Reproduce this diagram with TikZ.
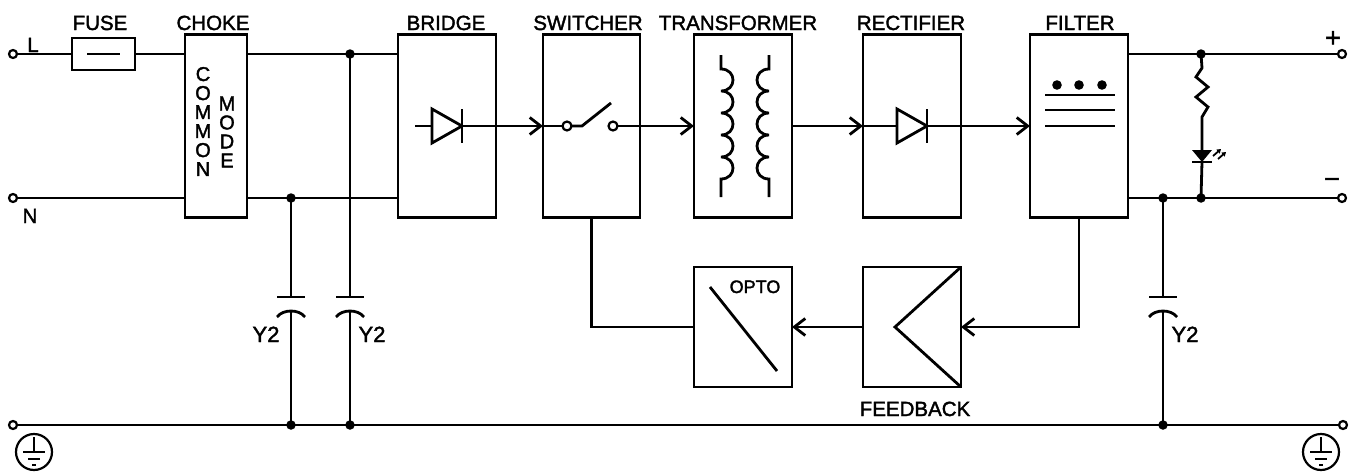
\documentclass[tikz,border=0pt]{standalone}
\usepackage{fontspec}
\setmainfont{Liberation Sans}[FakeBold=1.8]
\usetikzlibrary{arrows.meta}
\tikzset{
  box/.style={draw, line width=2.8pt, minimum width=98pt, minimum height=183pt, inner sep=0pt, outer sep=0pt},
  term/.style={circle, draw, fill=white, line width=2.2pt, minimum size=8pt, inner sep=0pt, outer sep=0pt},
  jdot/.style={circle, fill, minimum size=9.5pt, inner sep=0pt},
  lbl/.style={font=\fontsize{20.5}{24}\selectfont, inner sep=0pt, anchor=base},
  capl/.style={font=\fontsize{22}{24}\selectfont, inner sep=0pt, anchor=base},
  vlbl/.style={font=\fontsize{20}{19}\selectfont, inner sep=0pt, align=center},
  arr/.style={-{Straight Barb[length=11pt,width=17pt]}},
}
\begin{document}
\begin{tikzpicture}[x=1pt,y=-1pt,line width=2.8pt]
\fill[white] (0,0) rectangle (1358,474);
\useasboundingbox (0,0) rectangle (1358,474);

% boxes
\node[box, minimum width=63pt, minimum height=32pt] (fuse) at (103.5,54) {};
\node[box, minimum width=62pt] (choke) at (216,126) {};
\node[box] (bridge) at (447,126) {};
\node[box, minimum width=97pt] (switcher) at (591.5,126) {};
\node[box] (transformer) at (743,126) {};
\node[box] (rectifier) at (912,126) {};
\node[box] (filter) at (1079,126) {};
\node[box, minimum height=120pt] (opto) at (743,327) {};
\node[box, minimum height=120pt] (feedback) at (912,327) {};

% terminals
\node[term] (tL) at (13,54) {};
\node[term] (tN) at (13,198) {};
\node[term] (tP) at (1342,54) {};
\node[term] (tM) at (1342,198) {};
\node[term] (tGL) at (13,425) {};
\node[term] (tGR) at (1343,425) {};

% junction coordinates
\coordinate (dA) at (350,54);
\coordinate (dB) at (291,198);
\coordinate (dC) at (1201,54);
\coordinate (dD) at (1163,198);
\coordinate (dE) at (1201,198);
\coordinate (dF) at (291,425);
\coordinate (dG) at (350,425);
\coordinate (dH) at (1163,425);

% capacitor plates
\coordinate (c1t) at (291,297); \coordinate (c1b) at (291,311);
\coordinate (c2t) at (350,297); \coordinate (c2b) at (350,311);
\coordinate (c3t) at (1163,297); \coordinate (c3b) at (1163,311);

% mains wiring
\draw (tL) -- (fuse);
\draw (87,54) -- (120,54);
\draw (fuse) -- (choke.west |- tL);
\draw (choke.east |- tL) -- (bridge.west |- tL);
\draw (tN) -- (choke.west |- tN);
\draw (choke.east |- tN) -- (bridge.west |- tN);
\draw (tGL) -- (tGR);

% Y capacitors
\draw (dB) -- (c1t); \draw (c1b) -- (dF);
\draw (dA) -- (c2t); \draw (c2b) -- (dG);
\draw (dD) -- (c3t); \draw (c3b) -- (dH);
\foreach \x in {291,350,1163}{
  \draw (\x-14,297) -- (\x+14,297);
  \draw (\x-14,317) .. controls (\x-8,309) and (\x+8,309) .. (\x+14,317);
}

% bridge diode
\coordinate (bdA) at (415,126);
\coordinate (bdK) at (462,126);
\draw (bdA) -- (432,126);
\draw[line join=miter] (432,109) -- (462,126) -- (432,143) -- cycle;
\draw (462,109) -- (462,143);
\draw[arr] (bdK) -- (switcher.west |- bdK);

% switch
\node[term, minimum size=9pt] (sw1) at (567,126) {};
\node[term, minimum size=9pt] (sw2) at (613,126) {};
\draw (switcher.west |- bdK) -- (sw1);
\draw (sw1) -- (582,126) -- (611,103);
\draw[arr] (sw2) -- (transformer.west |- sw2);

% transformer coils
\draw (721,55) -- (721,69)
  .. controls (737,69) and (737,91) .. (721,91)
  .. controls (737,91) and (737,113) .. (721,113)
  .. controls (737,113) and (737,135) .. (721,135)
  .. controls (737,135) and (737,157) .. (721,157)
  .. controls (737,157) and (737,179) .. (721,179) -- (721,197);
\draw (769,55) -- (769,69)
  .. controls (753,69) and (753,91) .. (769,91)
  .. controls (753,91) and (753,113) .. (769,113)
  .. controls (753,113) and (753,135) .. (769,135)
  .. controls (753,135) and (753,157) .. (769,157)
  .. controls (753,157) and (753,179) .. (769,179) -- (769,197);
\draw[arr] (transformer.east |- sw2) -- (rectifier.west |- sw2);

% rectifier diode
\coordinate (rdK) at (927,126);
\draw (rectifier.west |- sw2) -- (897,126);
\draw[line join=miter] (897,109) -- (927,126) -- (897,143) -- cycle;
\draw (927,109) -- (927,143);
\draw[arr] (rdK) -- (filter.west |- rdK);

% filter symbol
\foreach \x in {1057,1079,1102}{\fill (\x,85) circle (4.8pt);}
\foreach \y in {95,110,126}{\draw (1045,\y) -- (1115,\y);}

% outputs
\draw (filter.east |- tP) -- (tP);
\draw (filter.east |- tM) -- (tM);

% resistor + LED
\draw[line join=miter] (dC) -- (1202,68) -- (1196,77) -- (1208,87) -- (1196,97) -- (1208,107) -- (1202,117) -- (1202,151);
\fill (1192,150) -- (1212,150) -- (1202,162) -- cycle;
\draw (1192,162) -- (1212,162);
\draw (1202,162) -- (dE);
\draw[line width=1.8pt, -{Triangle[length=4pt,width=5pt]}] (1213,156) -- (1221,149);
\draw[line width=1.8pt, -{Triangle[length=4pt,width=5pt]}] (1218,159) -- (1226,152);

% feedback loop
\draw[arr] (filter.south) -- (filter.south |- feedback) -- (feedback.east);
\draw (feedback.north east) -- (895,327) -- (feedback.south east);
\draw[arr] (feedback.west) -- (opto.east);
\draw (opto.west) -- (switcher.south |- opto) -- (switcher.south);
\draw (710,287) -- (777,371);

% junction dots
\foreach \p in {dA,dB,dC,dD,dE,dF,dG,dH}{\node[jdot] at (\p) {};}

% earth symbols
\foreach \cx in {34,1321}{
  \draw[line width=2.2pt] (\cx,452) circle (18pt);
  \draw[line width=2.2pt] (\cx,437) -- (\cx,452);
  \draw[line width=2.2pt] (\cx-11,452) -- (\cx+11,452);
  \draw[line width=2.2pt] (\cx-6,459) -- (\cx+6,459);
  \draw[line width=2.2pt] (\cx-2,465) -- (\cx+2,465);
}

% labels
\node[lbl] (lfuse) at (100,30) {FUSE};
\node[lbl] (lchoke) at (213,30) {CHOKE};
\node[lbl] (lbridge) at (446,30) {BRIDGE};
\node[lbl] (lswitch) at (588,30) {SWITCHER};
\node[lbl] (ltrans) at (738,30) {TRANSFORMER};
\node[lbl] (lrect) at (911,30) {RECTIFIER};
\node[lbl] (lfilt) at (1080,30) {FILTER};
\node[lbl] (lL) at (33,52) {L};
\node[lbl] (lN) at (30,223) {N};
\node[font=\fontsize{27}{28}\selectfont, inner sep=0pt] (lplus) at (1333,39) {+};
\node[font=\fontsize{27}{28}\selectfont, inner sep=0pt] (lminus) at (1332,183) {−};
\node[capl] (ly1) at (266,342) {Y2};
\node[capl] (ly2) at (372,342) {Y2};
\node[capl] (ly3) at (1185,342) {Y2};
\node[lbl, font=\fontsize{18}{20}\selectfont] (lopto) at (755,293) {OPTO};
\node[lbl] (lfb) at (915,416) {FEEDBACK};
\node[vlbl] (lcommon) at (203,121.5) {C\\O\\M\\M\\O\\N};
\node[vlbl] (lmode) at (227,132) {M\\O\\D\\E};
\end{tikzpicture}
\end{document}
